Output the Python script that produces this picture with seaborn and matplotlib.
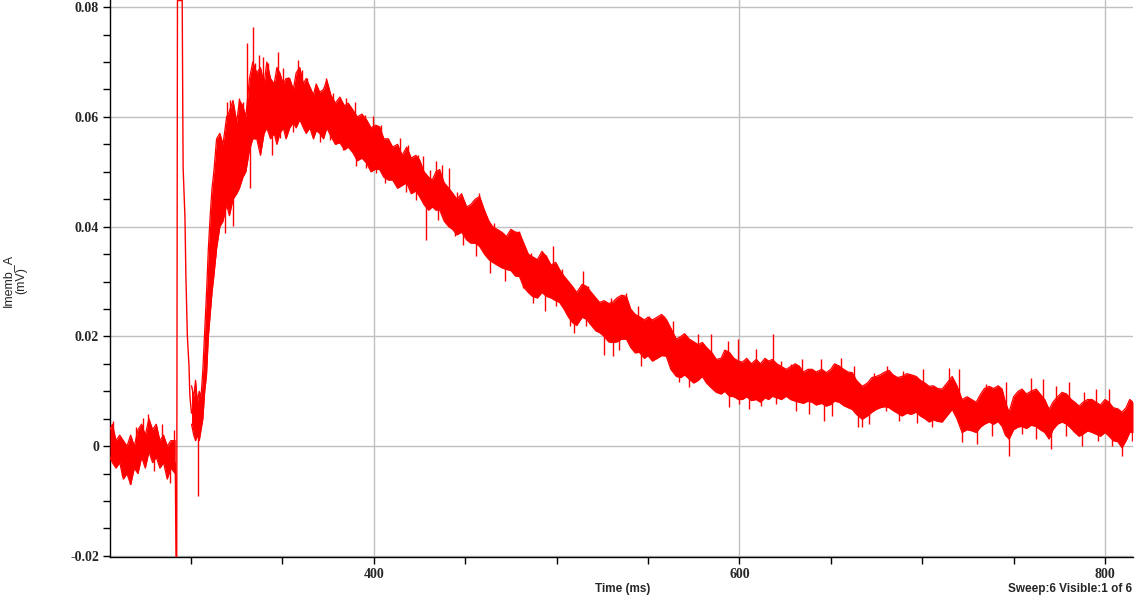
import seaborn as sns
import pandas as pd
import numpy as np
import matplotlib.pyplot as plt
from matplotlib import ticker

# baseline before the stimulus (ms, upper / lower edge of the noise band)
base_t = [255.7, 257, 259, 261, 263, 265, 267, 269, 271, 273,
          275, 277, 279, 281, 283, 285, 287, 289, 291.4]
base_hi = [0.003, 0.004, 0.001, 0.002, 0.001, 0.000, 0.002, 0.000, 0.003, 0.004,
           0.002, 0.005, 0.003, 0.004, 0.001, 0.002, 0.000, 0.001, 0.001]
base_lo = [-0.002, -0.003, -0.004, -0.003, -0.006, -0.005, -0.007, -0.004, -0.005, -0.002,
           -0.004, -0.001, -0.003, -0.002, -0.004, -0.003, -0.006, -0.004, -0.005]

# stimulus artifact
pulse_t = [291.4, 291.8, 292.2, 292.6, 295.2, 295.5, 295.7, 296.7, 297.2, 298.0,
           298.9, 299.4, 300.3]
pulse_v = [-0.003, -0.0201, -0.0201, 0.0812, 0.0812, 0.062, 0.0507, 0.0417, 0.0313, 0.0202,
           0.0147, 0.0091, 0.006]

# response (ms, upper / lower edge of the noise band)
decay_t = [300.3, 301.5, 302.5, 303.5, 304.5, 305.5, 306.5, 307.5, 308.5, 309.5,
           310.5, 311.5, 312.5, 314.0, 315.8, 317.5, 319.5, 321.0, 323.0, 325.0,
           326.5, 328.4, 330.0, 332.0, 333.8, 336.0, 338.0, 340.0, 341.5, 343.5,
           345.5, 347.0, 348.6, 350.5, 352.0, 354.0, 356.0, 357.5, 359.5, 361.5,
           363.0, 365.0, 367.0, 368.5, 370.4, 372.5, 374.3, 376.5, 379.0, 381.4,
           384.0, 386.0, 388.5, 391.0, 393.5, 396.0, 398.5, 401.0, 403.2, 405.5,
           408.0, 410.3, 413.0, 415.5, 418.0, 420.5, 423.0, 425.0, 427.5, 430.0,
           432.0, 434.0, 436.0, 438.5, 441.0, 443.1, 445.5, 448.0, 450.8, 453.0,
           455.5, 457.9, 460.5, 463.0, 465.0, 467.5, 470.0, 472.6, 475.0, 477.5,
           479.7, 482.0, 484.5, 486.8, 489.5, 492.0, 494.5, 497.0, 499.5, 501.6,
           504.0, 506.5, 508.7, 511.0, 514.0, 516.4, 519.0, 521.5, 523.5, 526.0,
           528.5, 530.6, 533.0, 535.5, 538.2, 540.5, 543.0, 545.3, 548.0, 550.0,
           552.4, 555.0, 557.5, 560.0, 562.5, 565.5, 568.0, 570.0, 572.6, 575.0,
           577.5, 579.7, 582.0, 585.0, 587.4, 590.0, 592.0, 594.5, 597.0, 599.5,
           601.6, 604.0, 606.5, 609.2, 611.5, 614.0, 616.0, 618.0, 620.5, 623.0,
           625.6, 628.0, 630.5, 632.7, 635.0, 637.5, 639.8, 642.0, 645.0, 647.5,
           650.0, 652.0, 654.6, 657.0, 659.5, 661.7, 664.0, 667.2, 670.0, 672.5,
           674.8, 677.0, 679.5, 681.9, 684.0, 686.5, 689.0, 691.5, 694.0, 696.7,
           699.0, 701.5, 703.8, 706.0, 708.5, 710.9, 713.5, 716.4, 719.0, 721.8,
           724.5, 727.0, 729.5, 732.0, 734.0, 736.6, 739.0, 741.5, 743.7, 745.5,
           747.5, 750.0, 752.5, 754.6, 757.0, 759.5, 762.3, 764.5, 767.0, 769.4,
           771.5, 774.0, 776.5, 779.0, 781.5, 783.5, 785.8, 788.0, 790.5, 792.9,
           795.0, 797.5, 800.0, 802.2, 804.5, 807.0, 809.3, 811.5, 813.5, 815.3]
decay_hi = [0.011, 0.009, 0.012, 0.008, 0.010, 0.009, 0.014, 0.021, 0.028, 0.036,
            0.042, 0.047, 0.050, 0.056, 0.057, 0.055, 0.060, 0.061, 0.063, 0.059,
            0.063, 0.062, 0.060, 0.067, 0.070, 0.068, 0.069, 0.066, 0.070, 0.067,
            0.066, 0.069, 0.068, 0.066, 0.067, 0.067, 0.065, 0.068, 0.069, 0.066,
            0.067, 0.0655, 0.064, 0.066, 0.0645, 0.065, 0.0667, 0.064, 0.0625, 0.0636,
            0.062, 0.0625, 0.0613, 0.060, 0.0605, 0.0595, 0.058, 0.0585, 0.0582, 0.056,
            0.056, 0.0545, 0.055, 0.053, 0.0545, 0.0525, 0.053, 0.0522, 0.050, 0.049,
            0.0485, 0.050, 0.0504, 0.048, 0.047, 0.0461, 0.045, 0.046, 0.0436, 0.044,
            0.045, 0.0455, 0.043, 0.041, 0.040, 0.0395, 0.039, 0.0382, 0.0395, 0.039,
            0.0389, 0.037, 0.035, 0.0345, 0.034, 0.0355, 0.0345, 0.033, 0.0335, 0.0322,
            0.031, 0.030, 0.0291, 0.028, 0.0295, 0.0291, 0.028, 0.027, 0.0262, 0.0265,
            0.026, 0.0262, 0.027, 0.0275, 0.0273, 0.025, 0.024, 0.0236, 0.023, 0.0235,
            0.023, 0.0235, 0.024, 0.0231, 0.0215, 0.0195, 0.020, 0.0205, 0.0195, 0.019,
            0.0185, 0.0189, 0.018, 0.017, 0.0158, 0.016, 0.0175, 0.0171, 0.016, 0.0155,
            0.0153, 0.016, 0.015, 0.0158, 0.015, 0.016, 0.0155, 0.0158, 0.015, 0.0145,
            0.014, 0.0145, 0.015, 0.0146, 0.0135, 0.014, 0.014, 0.0135, 0.014, 0.0134,
            0.014, 0.015, 0.0146, 0.014, 0.0135, 0.0134, 0.012, 0.0109, 0.0115, 0.0125,
            0.0127, 0.013, 0.0135, 0.0138, 0.013, 0.0125, 0.0127, 0.0132, 0.013, 0.0127,
            0.012, 0.0115, 0.0109, 0.011, 0.0105, 0.0104, 0.0115, 0.0127, 0.011, 0.0085,
            0.009, 0.0085, 0.008, 0.0095, 0.0105, 0.0109, 0.0105, 0.011, 0.0104, 0.008,
            0.0062, 0.009, 0.010, 0.0104, 0.0095, 0.010, 0.0104, 0.0095, 0.0085, 0.0067,
            0.008, 0.009, 0.0098, 0.0095, 0.0085, 0.008, 0.0073, 0.008, 0.0085, 0.0085,
            0.008, 0.0075, 0.0085, 0.008, 0.007, 0.0068, 0.0062, 0.007, 0.0085, 0.008]
decay_lo = [0.004, 0.002, 0.001, 0.002, 0.001, 0.003, 0.005, 0.010, 0.013, 0.020,
            0.024, 0.028, 0.031, 0.036, 0.040, 0.041, 0.044, 0.042, 0.045, 0.046,
            0.047, 0.049, 0.050, 0.054, 0.056, 0.056, 0.053, 0.057, 0.058, 0.056,
            0.057, 0.055, 0.057, 0.058, 0.056, 0.058, 0.059, 0.058, 0.0595, 0.058,
            0.057, 0.058, 0.056, 0.0575, 0.057, 0.056, 0.058, 0.0565, 0.055, 0.0553,
            0.054, 0.0545, 0.0535, 0.052, 0.0525, 0.0516, 0.050, 0.0505, 0.0504, 0.049,
            0.0485, 0.0485, 0.047, 0.0475, 0.048, 0.046, 0.0465, 0.0455, 0.044, 0.043,
            0.0436, 0.043, 0.0431, 0.041, 0.040, 0.0395, 0.0385, 0.039, 0.0376, 0.037,
            0.037, 0.0364, 0.035, 0.034, 0.0335, 0.033, 0.0325, 0.0322, 0.032, 0.031,
            0.0309, 0.029, 0.028, 0.0273, 0.027, 0.028, 0.0273, 0.027, 0.0265, 0.0262,
            0.025, 0.0235, 0.0225, 0.022, 0.0235, 0.0231, 0.022, 0.021, 0.0207, 0.020,
            0.019, 0.0189, 0.019, 0.0195, 0.0195, 0.018, 0.017, 0.0171, 0.016, 0.0165,
            0.0155, 0.016, 0.0165, 0.0164, 0.014, 0.0127, 0.0125, 0.013, 0.0122, 0.0115,
            0.012, 0.0127, 0.0115, 0.0105, 0.0098, 0.0095, 0.010, 0.0091, 0.009, 0.0085,
            0.0085, 0.009, 0.0083, 0.0085, 0.008, 0.0088, 0.0085, 0.0091, 0.0088, 0.0085,
            0.0091, 0.0085, 0.0082, 0.008, 0.0078, 0.0082, 0.008, 0.0075, 0.0078, 0.0073,
            0.0076, 0.0082, 0.008, 0.0074, 0.007, 0.0067, 0.0058, 0.0049, 0.0055, 0.0062,
            0.0067, 0.007, 0.0072, 0.007, 0.0065, 0.006, 0.0055, 0.006, 0.0058, 0.0062,
            0.0055, 0.005, 0.0044, 0.0048, 0.0045, 0.0044, 0.0055, 0.0067, 0.005, 0.0025,
            0.003, 0.0028, 0.0025, 0.0035, 0.004, 0.0044, 0.004, 0.0045, 0.0036, 0.002,
            0.0013, 0.003, 0.0035, 0.0036, 0.0032, 0.0038, 0.0036, 0.003, 0.0025, 0.0013,
            0.003, 0.004, 0.0044, 0.004, 0.0032, 0.0025, 0.0018, 0.0022, 0.0028, 0.0025,
            0.0022, 0.0018, 0.0025, 0.0018, 0.001, 0.0008, -0.0003, 0.001, 0.0025, 0.0025]

# single noise excursions poking out of the band (ms, tip value)
spike_t = [257.5, 262.0, 266.6, 270.0, 273.5, 276.5, 279.5, 284.0, 288.5, 290.5,
           303.6, 313.1, 318.5, 319.5, 321.3, 323.1, 326.4, 328.2, 330.5, 332.2,
           333.7, 335.0, 336.8, 337.3, 339.5, 342.2, 344.1, 347.7, 348.6, 350.4,
           353.2, 355.9, 358.6, 360.5, 363.2, 363.9, 367.7, 370.5, 374.1, 376.0,
           377.8, 381.4, 383.2, 385.0, 389.6, 390.5, 395.1, 396.0, 399.6, 401.4,
           404.2, 406.0, 406.9, 412.4, 414.2, 417.8, 418.7, 423.3, 424.2, 426.9,
           428.8, 430.6, 433.8, 435.1, 437.5, 441.1, 444.2, 445.7, 448.8, 455.7,
           457.5, 463.7, 465.5, 471.5, 474.3, 479.4, 481.6, 486.1, 487.0, 493.4,
           494.0, 498.0, 499.8, 503.0, 507.1, 509.3, 514.4, 516.2, 517.1, 526.2,
           529.8, 530.6, 534.4, 538.0, 544.4, 546.2, 550.8, 552.6, 559.0, 563.5,
           567.2, 569.9, 572.6, 577.2, 584.5, 586.3, 593.6, 594.5, 599.0, 600.0,
           605.4, 609.0, 611.8, 618.2, 620.0, 622.7, 628.2, 630.9, 634.5, 638.2,
           644.6, 646.4, 650.9, 655.5, 662.8, 664.6, 667.2, 671.0, 673.7, 680.1,
           681.0, 687.4, 689.3, 697.4, 700.2, 705.6, 714.7, 720.2, 722.0, 730.2,
           734.8, 738.4, 745.7, 747.2, 754.8, 759.4, 762.1, 765.8, 770.3, 773.0,
           778.5, 780.3, 787.6, 788.5, 794.9, 796.0, 802.2, 804.0, 809.1, 813.1,
           814.9]
spike_tip = [0.0045, -0.0055, -0.0069, 0.0035, 0.0052, 0.0058, -0.0045, 0.004, -0.0068, 0.003,
             -0.009, 0.0343, 0.0389, 0.0628, 0.0631, 0.0401, 0.0634, 0.0628, 0.0735, 0.0471,
             0.0764, 0.0698, 0.0552, 0.0713, 0.071, 0.0698, 0.0531, 0.0719, 0.0561, 0.0689,
             0.0673, 0.0573, 0.0704, 0.0685, 0.067, 0.0576, 0.0652, 0.0555, 0.067, 0.0558,
             0.0643, 0.0637, 0.054, 0.0634, 0.0628, 0.051, 0.0604, 0.0507, 0.0601, 0.0498,
             0.0586, 0.048, 0.0558, 0.048, 0.0561, 0.0464, 0.0549, 0.0449, 0.0531, 0.0528,
             0.0376, 0.0504, 0.0519, 0.0413, 0.0513, 0.0507, 0.0383, 0.0464, 0.0367, 0.0346,
             0.0461, 0.0316, 0.0407, 0.0301, 0.0392, 0.0392, 0.0289, 0.0352, 0.0261, 0.0246,
             0.0349, 0.0364, 0.0255, 0.0322, 0.0219, 0.0207, 0.0319, 0.0219, 0.0291, 0.0167,
             0.027, 0.0164, 0.0176, 0.0279, 0.0255, 0.0146, 0.0237, 0.0161, 0.0237, 0.0228,
             0.0116, 0.0198, 0.0107, 0.0204, 0.0204, 0.0104, 0.0192, 0.0071, 0.0195, 0.0077,
             0.0067, 0.0177, 0.0073, 0.0204, 0.0077, 0.0155, 0.0149, 0.0064, 0.0158, 0.0058,
             0.0158, 0.0046, 0.0055, 0.0161, 0.0146, 0.0034, 0.0034, 0.004, 0.0134, 0.0064,
             0.0146, 0.0046, 0.0137, 0.0043, 0.014, 0.0034, 0.0143, 0.014, 0.0007, 0.0004,
             0.0113, 0.0019, 0.0116, -0.0018, 0.0022, 0.0125, 0.0013, 0.0122, -0.0006, 0.011,
             0.0019, 0.0116, 0.0001, 0.0098, 0.0104, 0.001, 0.0104, 0.0001, -0.0018, 0.0082,
             0.001]

trace_red = "#ff0000"

sns.set_style("white")
plt.rcParams['font.family'] = ['Liberation Sans', 'DejaVu Sans']

fig = plt.figure(figsize=(11.35, 5.96), dpi=100)
ax = fig.add_axes([110 / 1135, 39 / 596, 1023 / 1135, 557 / 596])

base = pd.DataFrame({'t': base_t, 'hi': base_hi, 'lo': base_lo})
decay = pd.DataFrame({'t': decay_t, 'hi': decay_hi, 'lo': decay_lo})

for seg in (base, decay):
    ax.fill_between(seg['t'], seg['lo'], seg['hi'], color=trace_red, lw=0, zorder=3)
    sns.lineplot(data=seg, x='t', y='hi', color=trace_red, lw=0.9, estimator=None, ax=ax, zorder=3)
    sns.lineplot(data=seg, x='t', y='lo', color=trace_red, lw=0.9, estimator=None, ax=ax, zorder=3)

# each excursion starts from the middle of the band at its time
band = pd.concat([base, decay])
band_mid = (band['hi'] + band['lo']) / 2
spike_root = np.interp(spike_t, band['t'], band_mid)
ax.vlines(spike_t, spike_root, spike_tip, color=trace_red, lw=1, zorder=3)

sns.lineplot(x=pulse_t, y=pulse_v, sort=False, estimator=None, color=trace_red, lw=1, ax=ax, zorder=3)

ax.set_xlim(255.7, 815.3)
ax.set_ylim(-0.0202, 0.0813)

ax.xaxis.set_major_locator(ticker.MultipleLocator(200))
ax.xaxis.set_minor_locator(ticker.MultipleLocator(50))
ax.yaxis.set_major_locator(ticker.MultipleLocator(0.02))
ax.yaxis.set_minor_locator(ticker.MultipleLocator(0.005))
ax.yaxis.set_major_formatter(ticker.FuncFormatter(lambda v, p: '0' if abs(v) < 1e-9 else f'{v:g}'))

ax.grid(True, which='major', color='#c0c0c0', lw=1, zorder=0)
ax.tick_params(which='both', direction='out', color='black', width=1, bottom=True, left=True)
ax.tick_params(which='major', length=5, pad=3)
ax.tick_params(which='minor', length=5)
for lab in ax.get_xticklabels() + ax.get_yticklabels():
    lab.set_family('Liberation Serif')
    lab.set_fontweight('bold')
    lab.set_fontsize(10)

for side in ('top', 'right'):
    ax.spines[side].set_visible(False)
for side in ('left', 'bottom'):
    ax.spines[side].set_color('black')
    ax.spines[side].set_linewidth(1)

ax.set_xlabel('')
ax.set_ylabel('')

fig.text(0.013, 0.53, 'Imemb_A\n(mV)', rotation=90, ha='center', va='center',
         multialignment='center', fontsize=9)
fig.text(623 / 1135, 1 - 589 / 596, 'Time (ms)', ha='center', va='center',
         fontsize=8.5, fontweight='bold')
fig.text(1132 / 1135, 1 - 589 / 596, 'Sweep:6 Visible:1 of 6', ha='right', va='center',
         fontsize=8.5, fontweight='bold')

fig.savefig('out.png', dpi=100)
